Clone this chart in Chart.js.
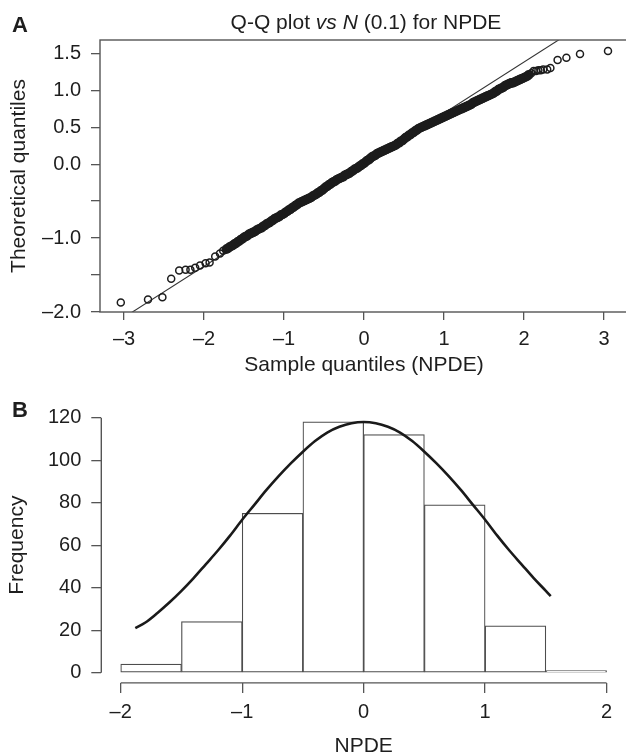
<!DOCTYPE html>
<html><head><meta charset="utf-8">
<script src="https://cdn.jsdelivr.net/npm/chart.js@4.4.1/dist/chart.umd.min.js"></script>
<style>
html,body{margin:0;padding:0;background:#fff;}
#page{position:relative;width:626px;height:754px;overflow:hidden;font-family:'Liberation Sans',Arial,sans-serif;color:#1e1e1e;}
#qq{position:absolute;left:0;top:0;}
#hist{position:absolute;left:0;top:370px;}
.panel{position:absolute;font-weight:bold;font-size:22px;line-height:26px;}
#title{position:absolute;left:100px;width:532px;top:10px;text-align:center;font-size:21px;line-height:24px;white-space:nowrap;}
</style></head><body>
<div id="page">
<canvas id="qq" width="640" height="380"></canvas>
<canvas id="hist" width="626" height="400"></canvas>
<div class="panel" style="left:12px;top:12px">A</div>
<div class="panel" style="left:12px;top:397px">B</div>
<div id="title">Q-Q plot <i>vs</i> <i>N</i> (0.1) for NPDE</div>
</div>
<script>
// ---------- Panel A: Q-Q plot data ----------
const qqSample = [
 -3.04,-2.70,-2.52,-2.41,-2.31,-2.23,-2.17,-2.11,-2.05,-1.98,-1.93,-1.86,-1.80,-1.76,-1.72,
 -1.70,-1.68,-1.66,-1.64,-1.62,-1.60,-1.58,-1.56,-1.54,-1.52,-1.50,-1.48,-1.46,-1.44,-1.42,-1.40,
 -1.38,-1.36,-1.34,-1.32,-1.30,-1.28,-1.26,-1.24,-1.22,-1.20,-1.18,-1.16,-1.14,-1.12,-1.10,
 -1.08,-1.06,-1.04,-1.02,-1.00,-0.98,-0.96,-0.94,-0.92,-0.90,-0.88,-0.86,-0.84,-0.82,-0.80,
 -0.78,-0.76,-0.74,-0.72,-0.70,-0.68,-0.66,-0.64,-0.62,-0.60,-0.58,-0.56,-0.54,-0.52,-0.50,
 -0.48,-0.46,-0.44,-0.42,-0.40,-0.38,-0.36,-0.34,-0.32,-0.30,-0.28,-0.26,-0.24,-0.22,-0.20,
 -0.18,-0.16,-0.14,-0.12,-0.10,-0.08,-0.06,-0.04,-0.02,0.00,
 0.02,0.04,0.06,0.08,0.10,0.12,0.14,0.16,0.18,0.20,0.22,0.24,0.26,0.28,0.30,
 0.32,0.34,0.36,0.38,0.40,0.42,0.44,0.46,0.48,0.50,0.52,0.54,0.56,0.58,0.60,
 0.62,0.64,0.66,0.68,0.70,0.72,0.74,0.76,0.78,0.80,0.82,0.84,0.86,0.88,0.90,
 0.92,0.94,0.96,0.98,1.00,1.02,1.04,1.06,1.08,1.10,1.12,1.14,1.16,1.18,1.20,
 1.22,1.24,1.26,1.28,1.30,1.32,1.34,1.36,1.38,1.40,1.42,1.44,1.46,1.48,1.50,
 1.52,1.54,1.56,1.58,1.60,1.62,1.64,1.66,1.68,1.70,1.72,1.74,1.76,1.78,1.80,
 1.82,1.84,1.86,1.88,1.90,1.92,1.94,1.96,1.98,2.00,2.02,2.04,2.06,
 2.09,2.12,2.15,2.18,2.21,2.24,2.29,2.33,2.42,2.53,2.70,3.05
];
const qqTheoretical = [
 -1.87,-1.83,-1.80,-1.55,-1.44,-1.43,-1.43,-1.40,-1.37,-1.34,-1.33,-1.25,-1.21,-1.17,-1.15,
 -1.14,-1.12,-1.11,-1.10,-1.08,-1.07,-1.05,-1.04,-1.02,-1.01,-0.99,-0.98,-0.97,-0.95,-0.94,-0.93,
 -0.92,-0.91,-0.89,-0.88,-0.87,-0.86,-0.84,-0.83,-0.81,-0.80,-0.79,-0.77,-0.76,-0.74,-0.73,
 -0.72,-0.71,-0.69,-0.68,-0.67,-0.65,-0.64,-0.62,-0.61,-0.59,-0.58,-0.56,-0.55,-0.53,-0.52,
 -0.51,-0.50,-0.49,-0.48,-0.47,-0.46,-0.45,-0.43,-0.42,-0.41,-0.39,-0.38,-0.36,-0.35,-0.33,
 -0.31,-0.30,-0.28,-0.27,-0.25,-0.24,-0.23,-0.21,-0.20,-0.19,-0.18,-0.17,-0.15,-0.14,-0.13,
 -0.12,-0.10,-0.09,-0.07,-0.06,-0.05,-0.03,-0.02,0.00,0.01,
 0.03,0.05,0.06,0.08,0.10,0.11,0.12,0.14,0.15,0.16,0.17,0.18,0.19,0.20,0.21,
 0.22,0.23,0.24,0.25,0.26,0.28,0.29,0.31,0.32,0.34,0.36,0.37,0.39,0.40,0.42,
 0.43,0.45,0.46,0.48,0.49,0.50,0.51,0.52,0.53,0.54,0.55,0.56,0.57,0.58,0.59,
 0.60,0.61,0.62,0.63,0.64,0.65,0.66,0.67,0.68,0.69,0.70,0.71,0.72,0.73,0.74,
 0.75,0.76,0.77,0.78,0.79,0.80,0.81,0.83,0.84,0.85,0.86,0.87,0.88,0.89,0.90,
 0.91,0.92,0.93,0.94,0.95,0.96,0.98,0.99,1.01,1.02,1.03,1.04,1.06,1.07,1.08,
 1.09,1.10,1.10,1.11,1.12,1.13,1.14,1.15,1.16,1.17,1.18,1.19,1.21,
 1.23,1.26,1.26,1.27,1.27,1.28,1.28,1.30,1.41,1.44,1.49,1.53
];
const qqLineX = [-3.3, 3.3];
const qqLineY = [-2.28, 2.28];
const qqXTicks = [-3, -2, -1, 0, 1, 2, 3];
const qqXLabels = ['\u20133', '\u20132', '\u20131', '0', '1', '2', '3'];
const qqYTicks = [-2, -1.5, -1, -0.5, 0, 0.5, 1, 1.5];
const qqYLabels = ['\u20132.0', '', '\u20131.0', '', '0.0', '0.5', '1.0', '1.5'];

// ---------- Panel B: histogram data ----------
const binCentres = [-1.75, -1.25, -0.75, -0.25, 0.25, 0.75, 1.25, 1.75];
const binCounts  = [4, 24, 75, 118, 112, 79, 22, 1];
const curveX = [-1.88, -1.8, -1.7, -1.6, -1.5, -1.4, -1.3, -1.2, -1.1, -1.0, -0.9, -0.8, -0.7, -0.6, -0.5, -0.4, -0.3, -0.2, -0.1, 0,
                0.1, 0.2, 0.3, 0.4, 0.5, 0.6, 0.7, 0.8, 0.9, 1.0, 1.1, 1.2, 1.3, 1.4, 1.5, 1.54];
const curveY = [21, 23.5, 28, 33, 38.5, 44.5, 51, 57.5, 64.5, 72, 79, 86, 92.5, 98.5, 104, 109, 113, 115.7, 117.4, 118,
                117.4, 115.7, 113, 109, 104, 98.5, 92.5, 86, 79, 72, 64.5, 57.5, 51, 44.5, 38.5, 36];
const histXTicks = [-2, -1, 0, 1, 2];
const histXLabels = ['\u20132', '\u20131', '0', '1', '2'];
const histYTicks = [0, 20, 40, 60, 80, 100, 120];
const histYLabels = ['0', '20', '40', '60', '80', '100', '120'];

Chart.defaults.font.family = "'Liberation Sans', Arial, sans-serif";
Chart.defaults.color = '#1e1e1e';
const AXIS = '#555';

const tickFont = {size: 20};
const titleFont = {size: 21};

const framePlugin = {
  id: 'frame',
  afterDatasetsDraw(chart) {
    const a = chart.chartArea, ctx = chart.ctx;
    ctx.save();
    ctx.strokeStyle = AXIS; ctx.lineWidth = 1.4;
    ctx.strokeRect(a.left, a.top, a.right - a.left, a.bottom - a.top);
    ctx.restore();
  }
};

// points in the dense central run overlap into a solid band
const denseBand = c => (c.raw && c.raw.x > -1.73 && c.raw.x < 2.07);

new Chart(document.getElementById('qq'), {
  type: 'scatter',
  data: {
    datasets: [
      {
        data: qqSample.map((x, i) => ({x: x, y: qqTheoretical[i]})),
        pointStyle: 'circle',
        pointRadius: c => denseBand(c) ? 3.5 : 3.5,
        pointBorderWidth: c => denseBand(c) ? 2.6 : 1.5,
        pointBorderColor: '#1c1c1c', pointBackgroundColor: 'rgba(0,0,0,0)',
        borderColor: '#1c1c1c', backgroundColor: 'rgba(0,0,0,0)'
      },
      {
        type: 'line',
        data: qqLineX.map((x, i) => ({x: x, y: qqLineY[i]})),
        borderColor: '#333', borderWidth: 1.1, pointRadius: 0, fill: false, tension: 0
      }
    ]
  },
  options: {
    responsive: false, animation: false, devicePixelRatio: 1,
    layout: {padding: {left: 0, top: 40, right: 12, bottom: 0}},
    plugins: {legend: {display: false}, tooltip: {enabled: false}},
    events: [],
    scales: {
      x: {
        type: 'linear', min: -3.3, max: 3.3,
        afterFit: s => { s.height = 68; },
        afterBuildTicks: s => { s.ticks = qqXTicks.map(v => ({value: v})); },
        ticks: {autoSkip: false, maxRotation: 0, padding: 7, font: tickFont,
                callback: (v, i) => qqXLabels[i]},
        grid: {drawOnChartArea: false, drawTicks: true, tickLength: 8, color: AXIS, lineWidth: 1.3},
        border: {display: false},
        title: {display: true, text: 'Sample quantiles (NPDE)', font: titleFont, padding: {top: 0, bottom: 2}}
      },
      y: {
        type: 'linear', min: -2, max: 1.68,
        afterFit: s => { s.width = 100; },
        afterBuildTicks: s => { s.ticks = qqYTicks.map(v => ({value: v})); },
        ticks: {autoSkip: false, padding: 10, font: tickFont,
                callback: (v, i) => qqYLabels[i]},
        grid: {drawOnChartArea: false, drawTicks: true, tickLength: 9, color: AXIS, lineWidth: 1.3},
        border: {display: false},
        title: {display: true, text: 'Theoretical quantiles', font: titleFont, padding: {top: 7, bottom: 0}}
      }
    }
  },
  plugins: [framePlugin]
});

const axisLinePlugin = {
  id: 'axisLines',
  afterDatasetsDraw(chart) {
    const ctx = chart.ctx, x = chart.scales.x, y = chart.scales.y, a = chart.chartArea;
    ctx.save();
    ctx.strokeStyle = AXIS; ctx.lineWidth = 1.4;
    ctx.beginPath();
    ctx.moveTo(x.getPixelForValue(histXTicks[0]), a.bottom);
    ctx.lineTo(x.getPixelForValue(histXTicks[histXTicks.length - 1]), a.bottom);
    ctx.moveTo(a.left, y.getPixelForValue(histYTicks[0]));
    ctx.lineTo(a.left, y.getPixelForValue(histYTicks[histYTicks.length - 1]));
    ctx.stroke();
    ctx.restore();
  }
};

new Chart(document.getElementById('hist'), {
  type: 'bar',
  data: {
    datasets: [
      {
        type: 'line',
        data: curveX.map((x, i) => ({x: x, y: curveY[i]})),
        borderColor: '#1a1a1a', borderWidth: 2.6, pointRadius: 0, fill: false,
        cubicInterpolationMode: 'monotone', order: 0
      },
      {
        type: 'bar',
        data: binCentres.map((x, i) => ({x: x, y: binCounts[i]})),
        backgroundColor: '#ffffff', borderColor: '#4d4d4d', borderWidth: 1.2,
        borderSkipped: false, barPercentage: 1, categoryPercentage: 1, order: 1
      }
    ]
  },
  options: {
    responsive: false, animation: false, devicePixelRatio: 1,
    layout: {padding: {left: 0, top: 37.5, right: 0, bottom: 0}},
    plugins: {legend: {display: false}, tooltip: {enabled: false}},
    events: [],
    scales: {
      x: {
        type: 'linear', min: -2.16, max: 2.16, offset: false,
        afterFit: s => { s.height = 87.1; },
        afterBuildTicks: s => { s.ticks = histXTicks.map(v => ({value: v})); },
        ticks: {autoSkip: false, maxRotation: 0, padding: 8, font: tickFont,
                callback: (v, i) => histXLabels[i]},
        grid: {offset: false, drawOnChartArea: false, drawTicks: true, tickLength: 10, color: AXIS, lineWidth: 1.3},
        border: {display: false},
        title: {display: true, text: 'NPDE', font: titleFont, padding: {top: 0, bottom: 11}}
      },
      y: {
        type: 'linear', min: -4.8, max: 124.8, beginAtZero: false,
        afterFit: s => { s.width = 101.3; },
        afterBuildTicks: s => { s.ticks = histYTicks.map(v => ({value: v})); },
        ticks: {autoSkip: false, padding: 10, font: tickFont,
                callback: (v, i) => histYLabels[i]},
        grid: {drawOnChartArea: false, drawTicks: true, tickLength: 10, color: AXIS, lineWidth: 1.3},
        border: {display: false},
        title: {display: true, text: 'Frequency', font: titleFont, padding: {top: 5, bottom: 0}}
      }
    }
  },
  plugins: [axisLinePlugin]
});
</script>
</body></html>
